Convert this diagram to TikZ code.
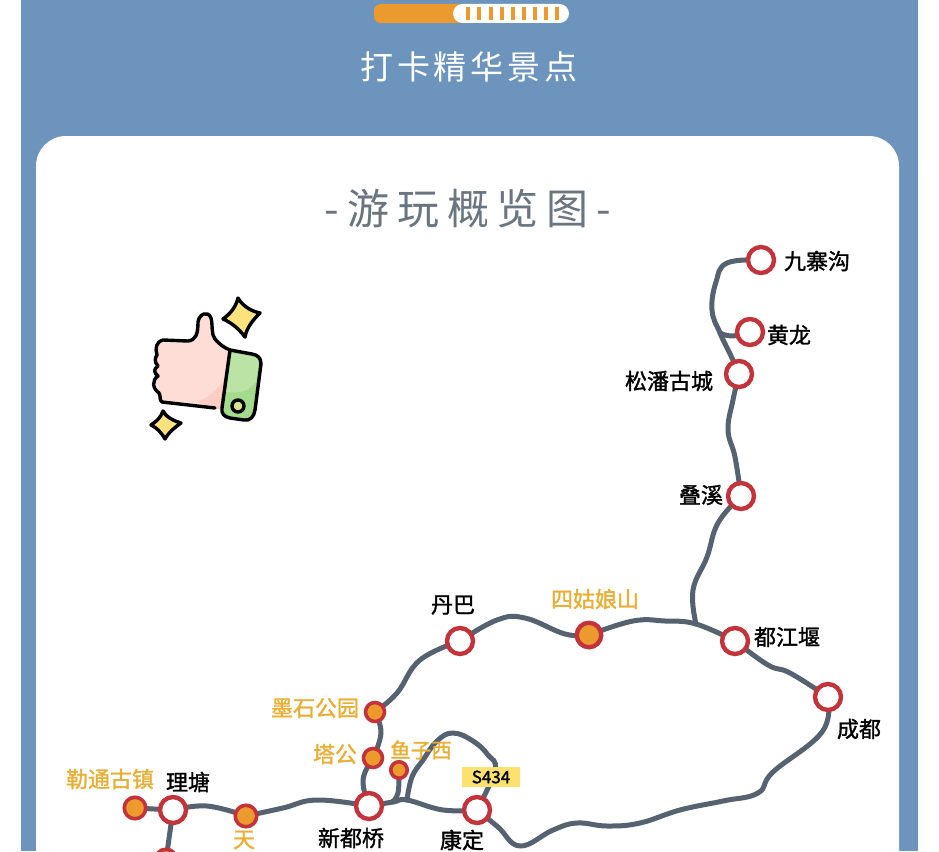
\documentclass[tikz,border=0pt]{standalone}
\usepackage{fontspec}
\setmainfont{Noto Sans CJK SC}
\newfontfamily\labelfont[FakeBold=1.4]{Noto Sans CJK SC}
\definecolor{bgblue}{HTML}{6C94BC}
\definecolor{routegray}{HTML}{56626F}
\definecolor{ringred}{HTML}{C2333B}
\definecolor{spotfill}{HTML}{EC9A2E}
\definecolor{spottext}{HTML}{E8AE35}
\definecolor{titlegray}{HTML}{6A7580}
\definecolor{tagyellow}{HTML}{FBE26E}
\definecolor{skinpink}{HTML}{FDDDD6}
\definecolor{skindark}{HTML}{FCCDC5}
\definecolor{cuffgreen}{HTML}{A3DA8C}
\definecolor{cufflight}{HTML}{BCE3A6}
\definecolor{starfill}{HTML}{FBE27C}
\pgfdeclarelayer{panel}
\pgfdeclarelayer{routes}
\pgfsetlayers{panel,routes,main}
\tikzset{
  route/.style={line width=5pt,color=routegray,line cap=round,line join=round},
  trail/.style={smooth,tension=0.7},
  stop/.style={circle,draw=ringred,line width=4.4pt,fill=white,inner sep=0pt,minimum size=26pt},
  spot/.style={circle,draw=ringred,line width=3.6pt,fill=spotfill,inner sep=0pt,minimum size=21.5pt},
  blacklabel/.style={font=\labelfont\fontsize{22}{22}\selectfont,text=black,inner sep=0pt},
  spotlabel/.style={font=\labelfont\fontsize{22}{22}\selectfont,text=spottext,inner sep=0pt},
  outline/.style={line width=3.4pt,color=black,line join=round,line cap=round},
}
\begin{document}
\begin{tikzpicture}[x=1pt,y=-1pt]
\useasboundingbox (0,0) rectangle (939,851);

\begin{pgfonlayer}{panel}
\fill[white] (0,0) rectangle (939,851);
\fill[bgblue] (21,0) rectangle (918,851);
\fill[white,rounded corners=30pt] (36,136) rectangle (899,900);
\end{pgfonlayer}

% progress bar
\fill[spotfill,rounded corners=6.5pt] (374,4) rectangle (470,23);
\fill[white,rounded corners=9.5pt] (453,4) rectangle (569,23);
\foreach \x in {468,479,491,502,513,524,535,546,557}
	\draw[spotfill,line width=3.2pt] (\x,7) -- (\x,20);

\node[text=white,font=\fontsize{33}{33}\selectfont] (headline) at (469,67) {\addfontfeature{LetterSpace=12}打卡精华景点};
\node[text=titlegray,font=\fontsize{42}{42}\selectfont] (overview) at (468,209) {\addfontfeature{LetterSpace=19}-游玩概览图-};

% stops
\node[stop] (jiuzhaigou) at (761,260) {};
\node[stop] (huanglong) at (750,332) {};
\node[stop] (songpan) at (739,374) {};
\node[stop] (diexi) at (741,496) {};
\node[stop] (dujiangyan) at (735,641) {};
\node[stop] (chengdu) at (828,697) {};
\node[stop] (danba) at (460,641) {};
\node[stop] (xinduqiao) at (369,806) {};
\node[stop] (kangding) at (477,810) {};
\node[stop] (litang) at (173,810) {};

% spots
\node[spot,minimum size=24.5pt,line width=4.4pt] (sigu) at (589,635) {};
\node[spot,minimum size=19pt] (moshi) at (375,712) {};
\node[spot,minimum size=19pt] (tagong) at (373,758) {};
\node[spot,minimum size=16.5pt] (yuzixi) at (399,770) {};
\node[spot] (letong) at (135,808) {};
\node[spot] (tian) at (246,816) {};
\node[spot] (lastspot) at (166,860) {};

% forks
\coordinate (forkN) at (720,333);
\coordinate (forkE) at (696,624);
\coordinate (forkS) at (407,800);

\begin{pgfonlayer}{routes}
\draw[route] plot[trail] coordinates {(jiuzhaigou) (727,263) (716,282) (712,310) (720,333) (732,358) (songpan)};
\draw[route] plot[trail] coordinates {(forkN) (732,336) (huanglong)};
\draw[route] plot[trail] coordinates {(songpan) (733,400) (728,430) (735,457) (diexi)};
\draw[route] plot[trail] coordinates {(diexi) (718,523) (707,557) (693,590) (forkE)};
\draw[route] plot[trail] coordinates {(danba) (497,620) (525,618) (565,634) (sigu)};
\draw[route] plot[trail] coordinates {(sigu) (633,621) (665,621) (forkE) (dujiangyan)};
\draw[route] plot[trail] coordinates {(dujiangyan) (768,665) (790,673) (chengdu)};
\draw[route] plot[trail] coordinates {(chengdu) (822,732) (773,772) (758,793) (723,801) (680,810) (640,823) (607,826) (577,823) (553,830) (520,846) (498,827) (kangding)};
\draw[route] plot[trail] coordinates {(danba) (420,660) (397,693) (moshi)};
\draw[route] plot[trail] coordinates {(moshi) (381,733) (tagong)};
\draw[route] plot[trail] coordinates {(tagong) (363,780) (xinduqiao)};
\draw[route] plot[trail] coordinates {(xinduqiao) (393,802) (forkS) (443,810) (kangding)};
\draw[route] plot[trail] coordinates {(yuzixi) (398,793) (392,802)};
\draw[route] plot[trail] coordinates {(forkS) (412,777) (423,760) (437,741) (453,733) (473,741) (488,755) (495,770) (kangding)};
\draw[route] plot[trail] coordinates {(litang) (207,806) (tian)};
\draw[route] plot[trail] coordinates {(tian) (283,808) (317,800) (xinduqiao)};
\draw[route] (letong) -- (litang);
\draw[route] (litang) -- (lastspot);
\end{pgfonlayer}

% labels
\node[blacklabel] (l1) at (817,261) {九寨沟};
\node[blacklabel] (l2) at (789,335) {黄龙};
\node[blacklabel] (l3) at (669,381) {松潘古城};
\node[blacklabel] (l4) at (701,495) {叠溪};
\node[blacklabel] (l5) at (787,637) {都江堰};
\node[blacklabel] (l6) at (859,729) {成都};
\node[blacklabel] (l7) at (453,605) {丹巴};
\node[blacklabel] (l8) at (188,782) {理塘};
\node[blacklabel] (l9) at (351,838) {新都桥};
\node[blacklabel] (l10) at (462,840) {康定};
\node[spotlabel] (s1) at (595,599) {四姑娘山};
\node[spotlabel] (s2) at (315,708) {墨石公园};
\node[spotlabel] (s3) at (335,754) {塔公};
\node[spotlabel,font=\labelfont\fontsize{20.5}{20.5}\selectfont] (s4) at (421,750) {鱼子西};
\node[spotlabel] (s5) at (110,779) {勒通古镇};
\node[spotlabel] (s6) at (244,840) {天};
\node[fill=tagyellow,text=black,font=\labelfont\fontsize{17}{17}\selectfont,minimum width=58pt,minimum height=20pt,inner sep=0pt] (s434) at (491,777) {S434};

% thumb
\fill[skinpink] (215,408) -- (162,402) -- (154,378) -- (158,345) -- (163,340) -- (193,340) -- (198,318) -- (207,313) -- (213,335) -- (230,350) -- (222,410) -- cycle;
\fill[skindark] (197,402) .. controls (212,396) and (222,386) .. (226,374) -- (222,410) -- cycle;
\draw[outline] (215,408) -- (162,402) .. controls (159,400) and (161,396) .. (159,393)
	.. controls (152,388) and (152,380) .. (158,376) .. controls (153,372) and (154,369) .. (158,366)
	.. controls (154,362) and (155,358) .. (157,355) .. controls (155,348) and (156,342) .. (163,340)
	-- (188,341) .. controls (196,340) and (198,334) .. (198,322) .. controls (199,314) and (208,310) .. (211,318)
	.. controls (213,326) and (211,334) .. (215,339) .. controls (220,345) and (225,348) .. (230,350);
\fill[cuffgreen] (230,350) -- (252,354) .. controls (258,355) and (261,358) .. (261,364)
	-- (255,410) .. controls (254,417) and (250,421) .. (244,420) -- (230,418) .. controls (224,417) and (221,413) .. (222,408) -- cycle;
\fill[cufflight] (232,353) -- (252,356.5) .. controls (257,357) and (259,360) .. (258.5,364) -- (256,382) .. controls (248,392) and (238,394) .. (226,392) -- cycle;
\draw[outline,fill=cufflight!50!starfill] (238,406) circle[radius=6];
\draw[outline] (230,350) -- (252,354) .. controls (258,355) and (261,358) .. (261,364)
	-- (255,410) .. controls (254,417) and (250,421) .. (244,420) -- (230,418) .. controls (224,417) and (221,413) .. (222,408) -- cycle;

% sparkles
\draw[outline,fill=starfill] (238,298) .. controls (242,305) and (250,311) .. (260,313)
	.. controls (253,320) and (247,327) .. (245,337) .. controls (239,329) and (232,323) .. (223,319)
	.. controls (230,314) and (236,307) .. (238,298) -- cycle;
\draw[outline,fill=starfill] (163,411) .. controls (166,417) and (174,421) .. (181,423)
	.. controls (174,428) and (169,432) .. (165,439) .. controls (161,432) and (157,428) .. (151,425)
	.. controls (157,421) and (161,417) .. (163,411) -- cycle;

\end{tikzpicture}
\end{document}
